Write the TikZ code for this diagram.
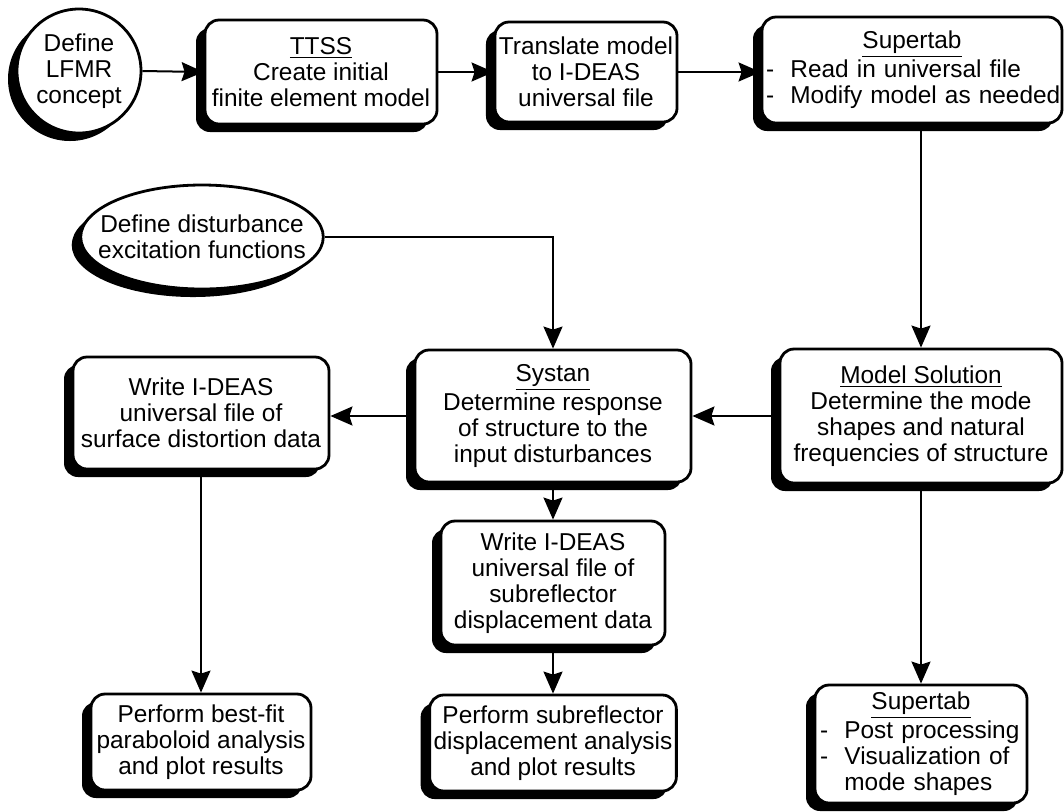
\documentclass[tikz,border=0pt]{standalone}
\usepackage{fontspec}
\setmainfont{Liberation Sans}
\usepackage{tikz}
\usetikzlibrary{shapes,arrows,positioning,calc,shadows,arrows.meta}

\begin{document}
\begin{tikzpicture}[x=0.5pt,y=-0.5pt,
    font=\fontsize{12.2}{13}\selectfont,
    shade/.style={drop shadow={shadow xshift=-4.5pt,shadow yshift=-4pt,fill=black,opacity=1}},
    stage/.style={draw,line width=1.4pt,rounded corners=7pt,fill=white,align=center,inner sep=2pt,shade},
    startnode/.style={draw,line width=1.4pt,fill=white,align=center,inner sep=0pt,shade},
    arr/.style={-{Stealth[length=11pt,width=9.5pt,inset=1.5pt]},line width=1pt}]
    \useasboundingbox (0,0) rectangle (1064,811);

    % Top row
    \node[startnode,circle,minimum size=62pt] (concept) at (79,71) {Define\\LFMR\\concept};
    \node[stage,minimum width=116pt,minimum height=52pt] (ttss) at (321,72)
        {\underline{TTSS}\\Create initial\\finite element model};
    \node[stage,minimum width=86pt,minimum height=50pt] (translate) at (586,72)
        {Translate model\\to I-DEAS\\universal file};
    \node[stage,align=left,text width=146pt,minimum width=148pt,minimum height=53pt] (suptop) at (912,70)
        {\makebox[\hsize]{\underline{Supertab}}\\
         \mbox{\makebox[1em][l]{-}Read in universal file}\\
         \mbox{\makebox[1em][l]{-}Modify model as needed}};

    % Disturbance input
    \node[startnode,ellipse,inner xsep=-9pt,minimum width=120pt,minimum height=52pt] (disturb) at (202,237)
        {Define disturbance\\excitation functions};

    % Middle row
    \node[stage,minimum width=128pt,minimum height=56pt] (writeL) at (201,413)
        {Write I-DEAS\\universal file of\\surface distortion data};
    \node[stage,minimum width=138pt,minimum height=66pt] (systan) at (553,416)
        {\underline{Systan}\\Determine response\\of structure to the\\input disturbances};
    \node[stage,minimum width=141pt,minimum height=67pt] (model) at (921,416)
        {\underline{Model Solution}\\Determine the mode\\shapes and natural\\frequencies of structure};
    \node[stage,minimum width=112pt,minimum height=62pt] (writeM) at (553,583)
        {Write I-DEAS\\universal file of\\subreflector\\displacement data};

    % Bottom row
    \node[stage,minimum width=110pt,minimum height=48pt] (bestfit) at (201,742)
        {Perform best-fit\\paraboloid analysis\\and plot results};
    \node[stage,minimum width=122pt,minimum height=48pt] (subrefl) at (553,743)
        {Perform subreflector\\displacement analysis\\and plot results};
    \node[stage,align=left,text width=101pt,minimum width=106pt,minimum height=59pt] (supbot) at (921,744)
        {\makebox[\hsize]{\underline{Supertab}}\\
         \mbox{\makebox[1em][l]{-}Post processing}\\
         \mbox{\makebox[1em][l]{-}Visualization of}\\
         \mbox{\hspace*{1em}mode shapes}};

    % Connectors
    \draw[arr] (concept.east) -- (ttss.west);
    \draw[arr] (ttss.east) -- (translate.west);
    \draw[arr] (translate.east) -- (translate.east -| suptop.west);
    \draw[arr] (suptop.south -| model.north) -- (model.north);
    \draw[arr] (disturb.east) -| (systan.north);
    \draw[arr] (model.west) -- (systan.east);
    \draw[arr] (systan.west) -- (systan.west -| writeL.east);
    \draw[arr] (systan.south) -- (writeM.north);
    \draw[arr] (writeM.south) -- (subrefl.north);
    \draw[arr] (writeL.south) -- (bestfit.north);
    \draw[arr] (model.south) -- (supbot.north);
\end{tikzpicture}
\end{document}
